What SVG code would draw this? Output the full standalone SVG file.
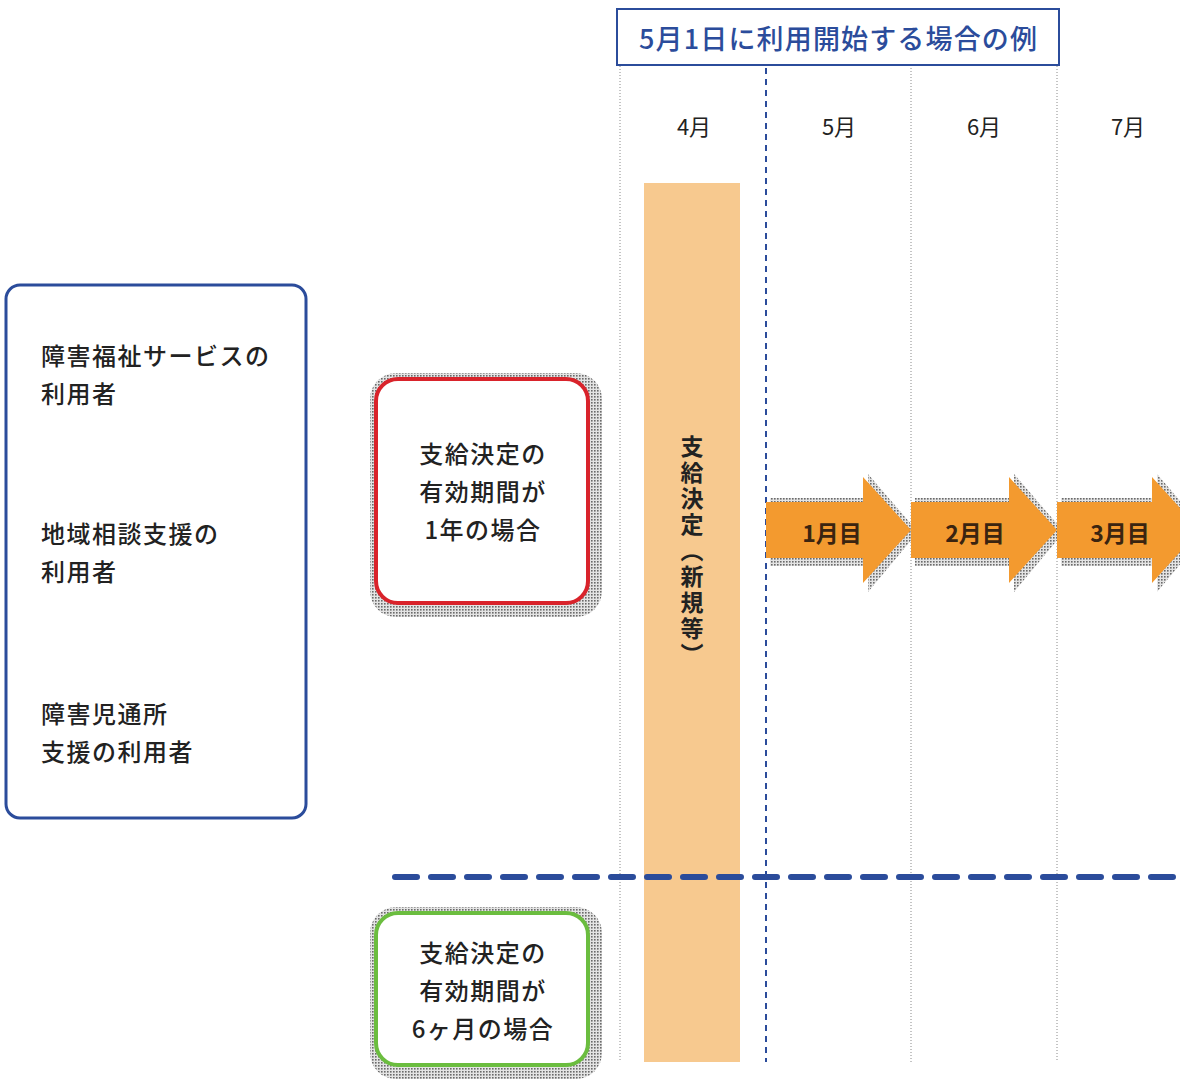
<svg xmlns="http://www.w3.org/2000/svg" width="1180" height="1079" viewBox="0 0 1180 1079">
<defs>
<pattern id="dots" width="3" height="3" patternUnits="userSpaceOnUse">
<rect width="3" height="3" fill="#e4e4e4"/>
<rect x="0" y="0" width="1.6" height="1.6" fill="#6a6a6a"/>
</pattern>
<style>
text{font-family:"Noto Sans CJK JP","Noto Sans",sans-serif;fill:#222}
.lbl{font-size:24px;font-weight:500;letter-spacing:1.5px}
.ctr{text-anchor:middle;dominant-baseline:central}
.month{font-size:22px;font-weight:400}
.arrowtxt{font-size:23px;font-weight:700;fill:#3a2410}
.vgrid{stroke:#8a8a8a;stroke-width:1;stroke-dasharray:1 2;fill:none}
.shadow{fill:url(#dots)}
</style>
</defs>
<rect width="1180" height="1079" fill="#fff"/>

<g id="grid">
<line class="vgrid" x1="620" y1="66" x2="620" y2="1062"/>
<line class="vgrid" x1="911" y1="68" x2="911" y2="1062"/>
<line class="vgrid" x1="1057" y1="66" x2="1057" y2="1062"/>
</g>

<g id="bar">
<rect x="644" y="183" width="96" height="879" fill="#f7c98f"/>
<text x="692" y="435" style="writing-mode:vertical-rl;font-size:23px;font-weight:700;letter-spacing:3px" text-anchor="start">支給決定（新規等）</text>
</g>

<g id="connectors">
<line x1="766" y1="68" x2="766" y2="1062" stroke="#2b4c9b" stroke-width="2" stroke-dasharray="6 5"/>
<line x1="395" y1="877" x2="1180" y2="877" stroke="#2b4c9b" stroke-width="6" stroke-dasharray="22 14" stroke-linecap="round"/>
</g>

<g id="title">
<rect x="617" y="9" width="442" height="56" fill="#fff" stroke="#2b4c9b" stroke-width="2"/>
<text x="838" y="37" class="ctr" style="font-size:27px;font-weight:500;fill:#2b4c9b" textLength="398" lengthAdjust="spacing">5月1日に利用開始する場合の例</text>
</g>

<g id="months">
<text x="694" y="125" class="ctr month">4月</text>
<text x="839" y="125" class="ctr month">5月</text>
<text x="984" y="125" class="ctr month">6月</text>
<text x="1128" y="125" class="ctr month">7月</text>
</g>

<g id="users">
<rect x="6" y="285" width="300" height="533" rx="14" fill="#fff" stroke="#2b4c9b" stroke-width="3"/>
<text x="41" y="354" class="lbl" dominant-baseline="central">障害福祉サービスの</text>
<text x="41" y="392" class="lbl" dominant-baseline="central">利用者</text>
<text x="41" y="532" class="lbl" dominant-baseline="central">地域相談支援の</text>
<text x="41" y="570" class="lbl" dominant-baseline="central">利用者</text>
<text x="41" y="712" class="lbl" dominant-baseline="central">障害児通所</text>
<text x="41" y="750" class="lbl" dominant-baseline="central">支援の利用者</text>
</g>

<g id="case-1year">
<rect class="shadow" x="370" y="373" width="232" height="244" rx="26"/>
<rect x="376" y="379" width="212" height="224" rx="22" fill="#fff" stroke="#d9232b" stroke-width="4"/>
<text x="483" y="452" class="ctr lbl">支給決定の</text>
<text x="483" y="490" class="ctr lbl">有効期間が</text>
<text x="483" y="528" class="ctr lbl">1年の場合</text>
</g>

<g id="case-6month">
<rect class="shadow" x="370" y="907" width="232" height="172" rx="26"/>
<rect x="376" y="913" width="212" height="152" rx="22" fill="#fff" stroke="#6bbd3f" stroke-width="4"/>
<text x="483" y="951" class="ctr lbl">支給決定の</text>
<text x="483" y="989" class="ctr lbl">有効期間が</text>
<text x="483" y="1027" class="ctr lbl">6ヶ月の場合</text>
</g>

<g id="month1">
<path class="shadow" d="M770,498 H868 V474 L918,532 L868,592 V566 H770 Z"/>
<path d="M766,502 H863 V477 L911,530 L863,583 V558 H766 Z" fill="#f39a2f"/>
<text x="832" y="532" class="ctr arrowtxt">1月目</text>
</g>
<g id="month2">
<path class="shadow" d="M915,498 H1014 V474 L1064,532 L1014,592 V566 H915 Z"/>
<path d="M911,502 H1009 V477 L1057,530 L1009,583 V558 H911 Z" fill="#f39a2f"/>
<text x="975" y="532" class="ctr arrowtxt">2月目</text>
</g>
<g id="month3">
<path class="shadow" d="M1061,498 H1157 V474 L1207,532 L1157,592 V566 H1061 Z"/>
<path d="M1057,502 H1152 V477 L1200,530 L1152,583 V558 H1057 Z" fill="#f39a2f"/>
<text x="1120" y="532" class="ctr arrowtxt">3月目</text>
</g>
</svg>
